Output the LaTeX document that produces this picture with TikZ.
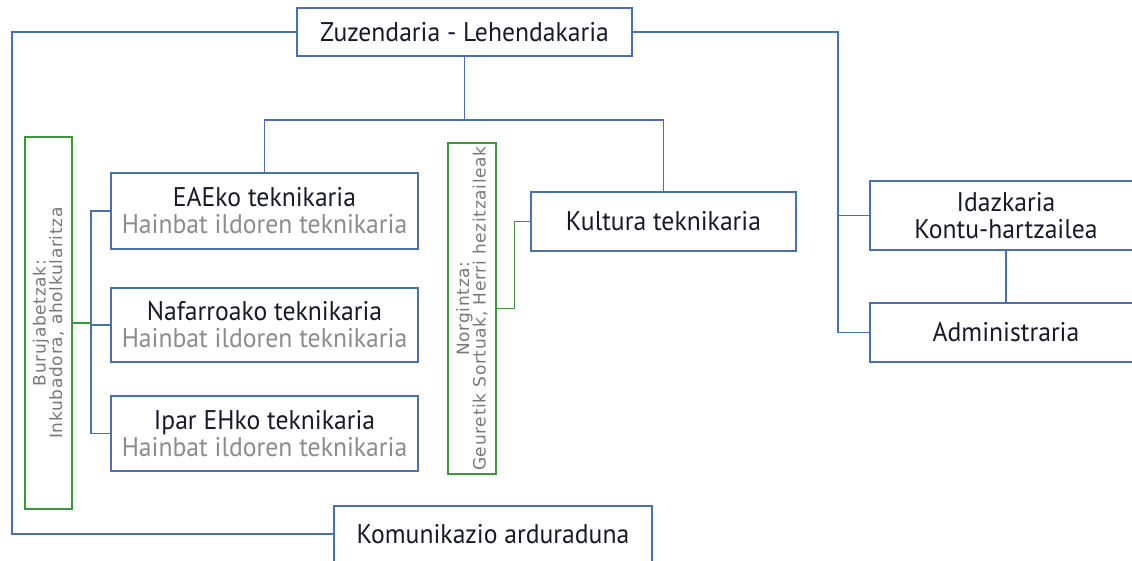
\documentclass[tikz,border=0pt]{standalone}
\usepackage{fontspec}
\setmainfont{PT Sans}[FakeStretch=0.95]
\newfontfamily\rotf{DejaVu Sans}[LetterSpace=4]
\definecolor{bl}{RGB}{74,112,180}
\definecolor{gr}{RGB}{60,150,60}
\definecolor{txt}{RGB}{25,25,40}
\definecolor{gtx}{RGB}{140,140,140}
\definecolor{rtx}{RGB}{120,120,120}
\begin{document}
\begin{tikzpicture}[x=1pt,y=-1pt,
  bline/.style={draw=bl,line width=1.4pt},
  gline/.style={draw=gr,line width=1.2pt},
  box/.style={draw=bl,line width=1.4pt,fill=white,inner sep=0pt,text=txt,align=center,font=\fontsize{27}{27}\selectfont},
  gbox/.style={draw=gr,line width=1.2pt,fill=white,inner sep=0pt},
  rtext/.style={rotate=90,text=rtx,align=center,font=\rotf\fontsize{17}{16.5}\selectfont}]
\useasboundingbox (0,0) rectangle (1132,560);
\clip (0,0) rectangle (1132,560);
% nodes
\node[box,minimum width=335pt,minimum height=48pt] (zuz) at (464.5,32) {Zuzendaria - Lehendakaria};
\node[box,minimum width=318pt,minimum height=56pt] (kom) at (493,534) {Komunikazio arduraduna};
\node[box,minimum width=272pt,minimum height=69pt] (ida) at (1006,215.5) {Idazkaria\\Kontu-hartzailea};
\node[box,minimum width=272pt,minimum height=59pt] (adm) at (1006,332.5) {Administraria};
\node[box,minimum width=307pt,minimum height=76pt] (eae) at (264.5,211) {EAEko teknikaria\\\textcolor{gtx}{Hainbat ildoren teknikaria}};
\node[box,minimum width=307pt,minimum height=74pt] (naf) at (264.5,325) {Nafarroako teknikaria\\\textcolor{gtx}{Hainbat ildoren teknikaria}};
\node[box,minimum width=307pt,minimum height=75pt] (ipar) at (264.5,433.5) {Ipar EHko teknikaria\\\textcolor{gtx}{Hainbat ildoren teknikaria}};
\node[box,minimum width=265pt,minimum height=59pt] (kul) at (663.5,221.5) {Kultura teknikaria};
\node[gbox,minimum width=47pt,minimum height=372pt] (buru) at (48.5,323) {};
\node[rtext] (burut) at (buru.center) {Burujabetzak:\\Inkubadora, aholkularitza};
\node[gbox,minimum width=48pt,minimum height=331pt] (norg) at (472,308.5) {};
\node[rtext] (norgt) at (norg.center) {Norgintza:\\Geuretik Sortuak, Herri hezitzaileak};
% coordinates
\coordinate (lj) at (12,32);
\coordinate (rj) at (838,32);
\coordinate (tj) at (464.5,120);
\coordinate (bx) at (91,323);
% blue connectors
\draw[bline] (zuz.west) -- (lj) |- (kom.west);
\draw[bline] (zuz.east) -- (rj) |- (adm.west);
\draw[bline] (rj |- ida.west) -- (ida.west);
\draw[bline] (ida.south) -- (adm.north);
\draw[bline] (zuz.south) -- (tj);
\draw[bline] (eae.north) |- (tj) -| (kul.north);
\draw[bline] (eae.west) -- (eae.west -| bx) -- (ipar.west -| bx) -- (ipar.west);
\draw[bline] (naf.west) -- (naf.west -| bx);
% green connectors
\draw[gline] (buru.east) -- (buru.east -| bx);
\draw[gline] (norg.east) -- ++(18,0) |- (kul.west);
\end{tikzpicture}
\end{document}
